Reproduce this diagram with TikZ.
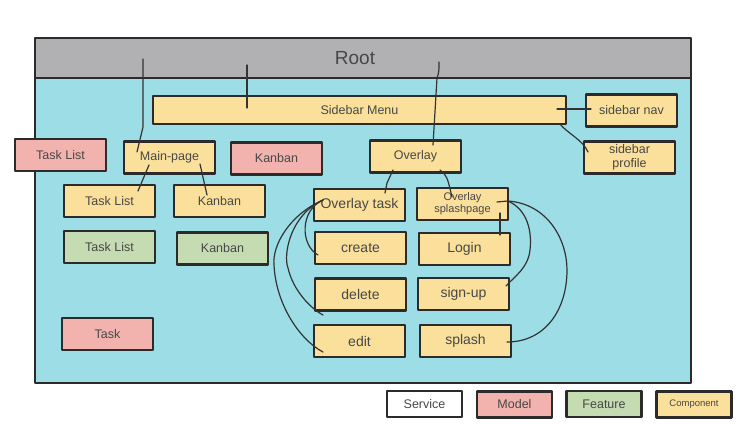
\documentclass[tikz,border=0pt]{standalone}
\usepackage{fontspec}
\setmainfont{Liberation Sans}
\usetikzlibrary{calc}
\definecolor{bodycyan}{HTML}{9CDDE6}
\definecolor{headgray}{HTML}{B1B1B3}
\definecolor{compyellow}{HTML}{FBE09B}
\definecolor{modelred}{HTML}{F2B3AF}
\definecolor{featgreen}{HTML}{C5DBB1}
\definecolor{edge}{HTML}{2B2B2B}
\definecolor{txt}{HTML}{474747}
\definecolor{wirecol}{HTML}{333333}
\begin{document}
\begin{tikzpicture}[x=1pt,y=-1pt, line join=round, line cap=round,
	box/.style={draw=edge, line width=2.4pt, minimum width=91pt, minimum height=32pt, inner sep=1pt, align=center, text=txt, font=\fontsize{12.5}{14}\selectfont},
	comp/.style={box, fill=compyellow},
	model/.style={box, fill=modelred},
	feat/.style={box, fill=featgreen},
	big/.style={font=\fontsize{14}{16}\selectfont},
	legend/.style={box, minimum width=75pt, minimum height=26pt},
	wire/.style={draw=wirecol, line width=1.2pt}]
		\useasboundingbox (0,0) rectangle (747,430);
		% panel
		\draw[draw=edge, line width=2.4pt, fill=bodycyan] (35,78) rectangle (691,383);
		\node[draw=edge, line width=2.4pt, fill=headgray, minimum width=656pt, minimum height=40pt, inner sep=0pt, text=txt, font=\fontsize{19}{21}\selectfont] (root) at (363,58) {\hspace*{-16pt}Root};
		
		% first row
		\node[comp, minimum width=413pt, minimum height=28pt] (sidebar) at (359.5,110) {Sidebar Menu};
		\node[comp] (sidebarnav) at (631.5,110.5) {sidebar nav};
		\node[comp, font=\fontsize{12.5}{14}\selectfont] (sidebarprofile) at (629.5,157.5) {sidebar\\profile};
		\node[model] (tasklistm) at (60.5,155) {Task List};
		\node[comp] (mainpage) at (169.5,157.5) {Main-page};
		\node[model] (kanbanm) at (276.5,158.5) {Kanban};
		\node[comp] (overlay) at (415.5,156.5) {Overlay};
		
		% pages
		\node[comp] (tasklistc) at (109.5,201) {Task List};
		\node[comp] (kanbanc) at (219.5,201) {Kanban};
		\node[feat] (tasklistf) at (109.5,247) {Task List};
		\node[feat] (kanbanf) at (222.5,248.5) {Kanban};
		\node[model] (taskm) at (107.5,334) {Task};
		
		% overlay
		\node[comp, big] (overlaytask) at (359.5,205) {Overlay task};
		\node[comp, font=\fontsize{11}{12}\selectfont] (splashpage) at (462.5,204) {Overlay\\splashpage};
		\node[comp, big] (create) at (360.5,248) {create};
		\node[comp, big] (login) at (464.5,249) {Login};
		\node[comp, big] (delete) at (360.5,294.5) {delete};
		\node[comp, big] (signup) at (463.5,294) {sign-up};
		\node[comp, big] (edit) at (359.5,341) {edit};
		\node[comp, big] (splash) at (465.5,341) {splash};
		
		% legend
		\node[legend, fill=white] (service) at (424.5,404) {Service};
		\node[legend, fill=modelred] (model) at (514.5,404.5) {Model};
		\node[legend, fill=featgreen] (feature) at (604,404) {Feature};
		\node[legend, fill=compyellow, font=\fontsize{9.5}{10}\selectfont] (component) at (694,404.5) {Component};
		
		% links
		\draw[wire] ($(root)+(-220,1)$) -- ($(mainpage)+(-26.5,-30.5)$) -- ($(mainpage)+(-32.5,-5.5)$);
		\draw[wire] ($(root)+(-116,7)$) -- ($(sidebar)+(-112.5,-2)$);
		\draw[wire] ($(root)+(76,4)$) .. controls ($(root)+(76,14)$) .. ($(root)+(74,20)$) -- ($(overlay)+(17.5,-11.5)$);
		\draw[wire] ($(sidebar)+(197.5,-1)$) -- ($(sidebarnav)+(-40.5,-1.5)$);
		\draw[wire] ($(sidebar)+(200.5,14)$) .. controls (567,133) and (583,140) .. ($(sidebarprofile)+(-41.5,-5.5)$);
		\draw[wire] ($(mainpage)+(-20.5,7.5)$) -- ($(tasklistc)+(28.5,-10)$);
		\draw[wire] ($(mainpage)+(30.5,6.5)$) -- ($(kanbanc)+(-12.5,-6)$);
		\draw[wire] ($(overlay)+(-22.5,13.5)$) -- (387,183) -- ($(overlaytask)+(25.5,-12)$);
		\draw[wire] ($(overlay)+(24.5,13.5)$) .. controls (447,176) .. ($(splashpage)+(-10.5,-7)$);
		\draw[wire] ($(splashpage)+(37.5,9)$) -- ($(login)+(35.5,-14)$);
		\draw[wire] ($(splashpage)+(34.5,-2)$) -- (508,201) .. controls (528,210) and (532,232) .. (530,250) .. controls (528,268) and (515,276) .. ($(signup)+(42.5,-8)$);
		\draw[wire] (508,201) .. controls (548,204) and (567,240) .. (567,270) .. controls (567,310) and (545,342) .. ($(splash)+(41.5,1)$);
		\draw[wire] ($(overlaytask)+(-36.5,-5)$) .. controls (300,210) and (300,245) .. ($(create)+(-42.5,7)$);
		\draw[wire] ($(overlaytask)+(-36.5,-5)$) .. controls (290,215) and (283,255) .. (288,268) .. controls (293,290) and (310,308) .. ($(delete)+(-37.5,20.5)$);
		\draw[wire] ($(overlaytask)+(-38.5,-4)$) .. controls (290,215) and (272,245) .. (274,265) .. controls (276,305) and (300,340) .. ($(edit)+(-36.5,11)$);
\end{tikzpicture}
\end{document}
